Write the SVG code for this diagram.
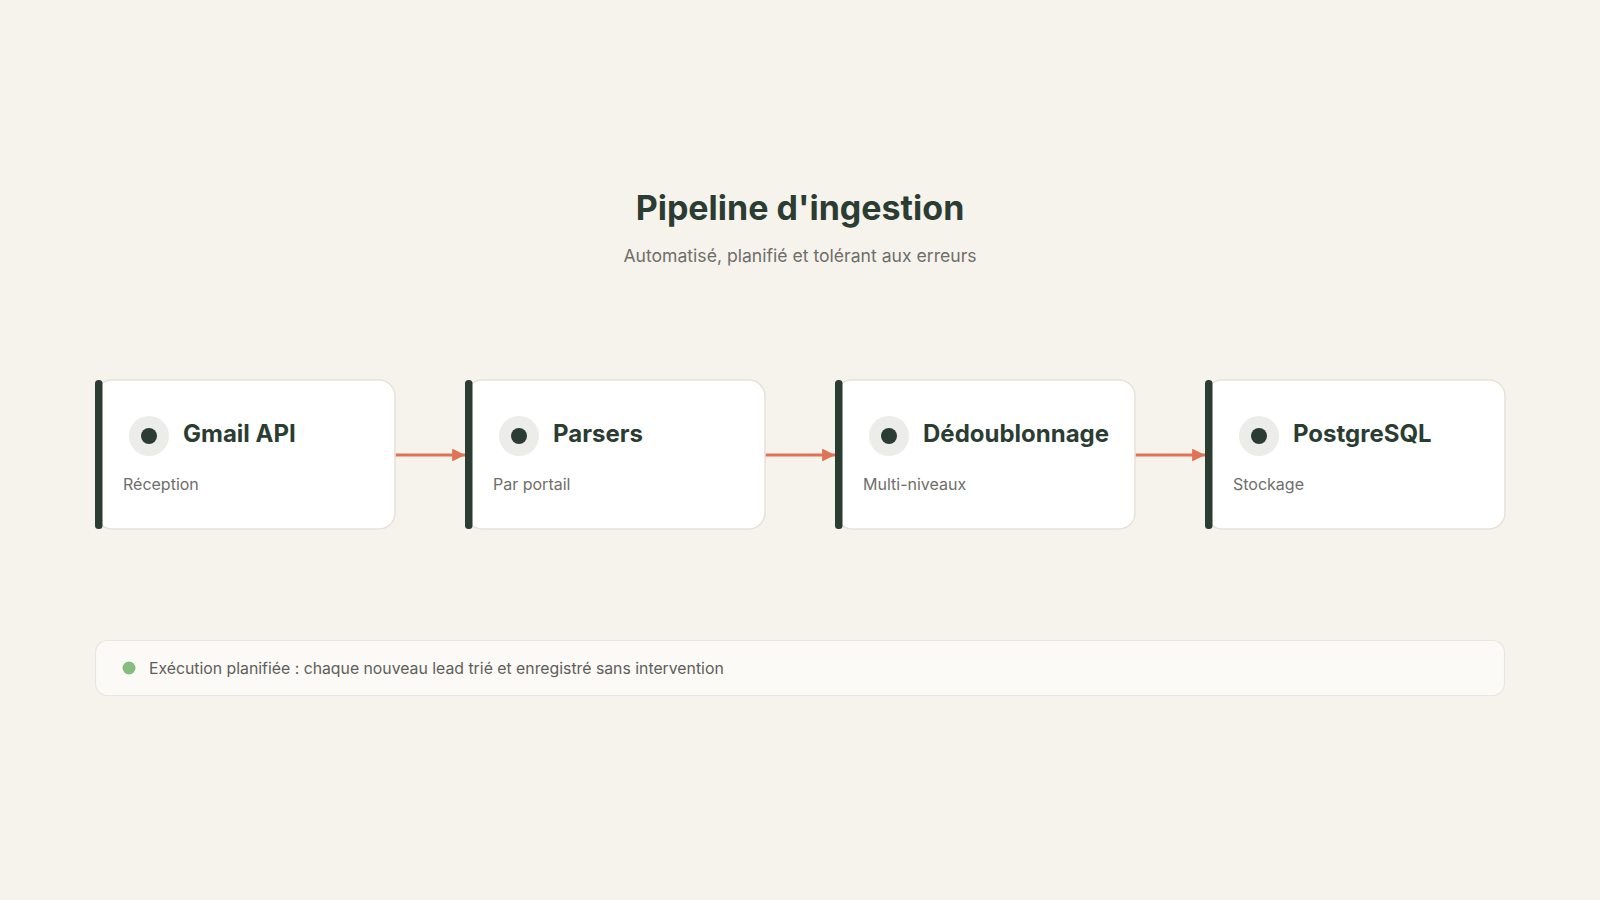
<svg xmlns="http://www.w3.org/2000/svg" width="1600" height="900" viewBox="0 0 1600 900">
<defs>
<style>
.card{fill:#ffffff;stroke:#E6E2D9;stroke-width:1.5}
.bar{fill:#2B3D33}
.halo{fill:#ECECEA}
.dot{fill:#2B3D33}
.ttl{font-family:Inter,"Noto Sans",sans-serif;font-weight:700;font-size:24px;fill:#2B3D33}
.sub{font-family:Inter,"Noto Sans",sans-serif;font-size:16px;fill:#6E6E6A}
.conn{stroke:#E07256;stroke-width:3;fill:none}
</style>
<marker id="ah" viewBox="0 0 10 10" refX="10" refY="5" markerWidth="4.3" markerHeight="4.3" orient="auto" markerUnits="strokeWidth">
<path d="M0,0 L10,5 L0,10 z" fill="#E07256"/>
</marker>
</defs>
<rect width="1600" height="900" fill="#F6F3EC"/>
<g id="header">
<text x="800" y="220" text-anchor="middle" font-family="Inter,'Noto Sans',sans-serif" font-weight="700" font-size="34" fill="#2B3D33">Pipeline d'ingestion</text>
<text x="800" y="262" text-anchor="middle" font-family="Inter,'Noto Sans',sans-serif" font-size="17.6" fill="#6E6E6A">Automatisé, planifié et tolérant aux erreurs</text>
</g>
<g id="connectors">
<line class="conn" x1="395" y1="455" x2="465" y2="455" marker-end="url(#ah)"/>
<line class="conn" x1="765" y1="455" x2="835" y2="455" marker-end="url(#ah)"/>
<line class="conn" x1="1135" y1="455" x2="1205" y2="455" marker-end="url(#ah)"/>
</g>
<g id="node-gmail">
<rect class="card" x="96" y="380" width="299" height="149" rx="16"/>
<rect class="bar" x="95" y="380" width="7.5" height="149" rx="3.5"/>
<circle class="halo" cx="149" cy="436" r="20"/>
<circle class="dot" cx="149" cy="436" r="8"/>
<text class="ttl" x="183" y="442">Gmail API</text>
<text class="sub" x="123" y="490">Réception</text>
</g>
<g id="node-parsers">
<rect class="card" x="466" y="380" width="299" height="149" rx="16"/>
<rect class="bar" x="465" y="380" width="7.5" height="149" rx="3.5"/>
<circle class="halo" cx="519" cy="436" r="20"/>
<circle class="dot" cx="519" cy="436" r="8"/>
<text class="ttl" x="553" y="442">Parsers</text>
<text class="sub" x="493" y="490">Par portail</text>
</g>
<g id="node-dedup">
<rect class="card" x="836" y="380" width="299" height="149" rx="16"/>
<rect class="bar" x="835" y="380" width="7.5" height="149" rx="3.5"/>
<circle class="halo" cx="889" cy="436" r="20"/>
<circle class="dot" cx="889" cy="436" r="8"/>
<text class="ttl" x="923" y="442">Dédoublonnage</text>
<text class="sub" x="863" y="490">Multi-niveaux</text>
</g>
<g id="node-postgres">
<rect class="card" x="1206" y="380" width="299" height="149" rx="16"/>
<rect class="bar" x="1205" y="380" width="7.5" height="149" rx="3.5"/>
<circle class="halo" cx="1259" cy="436" r="20"/>
<circle class="dot" cx="1259" cy="436" r="8"/>
<text class="ttl" x="1293" y="442">PostgreSQL</text>
<text class="sub" x="1233" y="490">Stockage</text>
</g>
<g id="footer-note">
<rect x="95.5" y="640.5" width="1409" height="55" rx="12" fill="#FBFAF6" stroke="#EAE6DD" stroke-width="1.2"/>
<circle cx="129" cy="668" r="6.5" fill="#86BC7E"/>
<text x="149" y="674" font-family="Inter,'Noto Sans',sans-serif" font-size="15.8" fill="#5E5E5A">Exécution planifiée : chaque nouveau lead trié et enregistré sans intervention</text>
</g>
</svg>
